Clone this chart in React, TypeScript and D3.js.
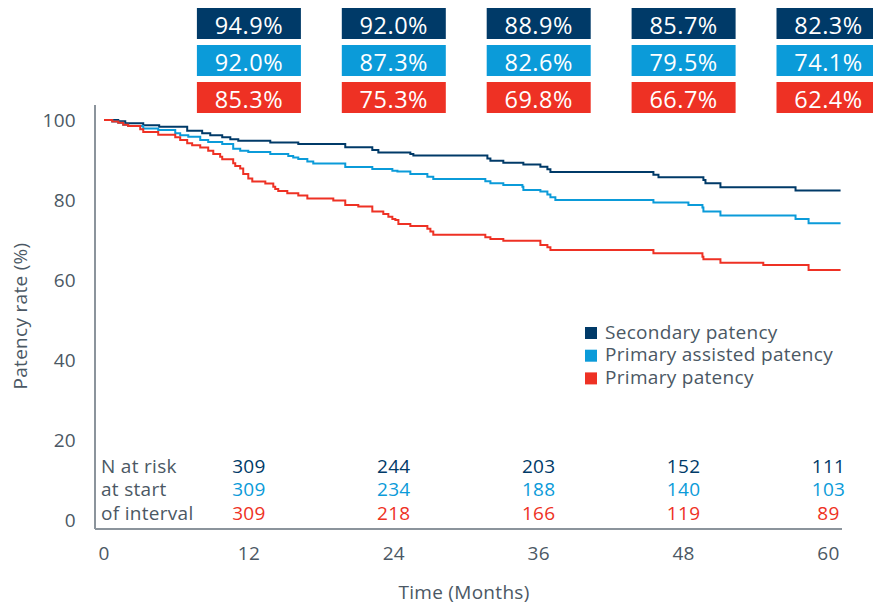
import React from "react";
import * as d3 from "d3";

const W = 873;
const H = 605;

// Kaplan-Meier step data: [month, patency %]
const secondaryTimes = [0, 1.18, 1.76, 3.25, 4.57, 6.89, 8.13, 8.8, 9.79, 10.46, 11.12, 13.77, 16.09, 19.98, 22.22, 22.72, 25.37, 25.62, 31.75, 32.0, 33.07, 34.73, 36.14, 36.72, 36.97, 45.5, 45.92, 49.64, 49.81, 51.05, 57.27, 61];
const secondaryValues = [100, 99.7, 99.2, 98.7, 98.3, 97.3, 96.7, 96.2, 95.7, 95.2, 94.8, 94.4, 94.0, 93.2, 92.5, 91.9, 91.5, 91.1, 90.4, 89.8, 89.3, 88.9, 88.3, 87.7, 87.0, 86.3, 85.7, 85.0, 84.2, 83.2, 82.4, 82.4];

const assistedTimes = [0, 0.68, 1.18, 1.59, 2.0, 3.25, 4.49, 5.9, 6.31, 6.98, 7.97, 8.63, 9.79, 10.7, 11.28, 11.95, 13.77, 15.26, 15.67, 16.09, 16.84, 17.33, 19.98, 22.22, 23.88, 24.3, 25.37, 26.78, 27.27, 31.58, 32.0, 33.07, 34.65, 34.73, 36.14, 36.72, 36.97, 37.38, 45.5, 48.4, 49.56, 49.64, 51.05, 57.27, 58.35, 61];
const assistedValues = [100, 99.6, 99.3, 98.8, 98.5, 97.9, 97.5, 96.7, 96.2, 95.8, 95.0, 94.5, 94.0, 92.8, 92.3, 92.0, 91.5, 91.0, 90.6, 90.25, 89.6, 89.1, 88.25, 87.75, 87.3, 87.1, 86.5, 85.8, 85.25, 84.7, 84.2, 83.75, 83.3, 82.5, 82.1, 81.4, 80.7, 80.0, 79.4, 78.75, 78.1, 77.1, 76.1, 75.25, 74.2, 74.2];

const primaryTimes = [0, 0.68, 1.18, 1.59, 2.0, 3.0, 3.25, 4.49, 5.9, 6.31, 6.89, 7.3, 7.97, 8.63, 9.05, 9.62, 9.79, 10.7, 10.87, 11.28, 11.53, 11.95, 12.28, 13.36, 14.02, 14.18, 14.43, 15.18, 16.09, 16.84, 18.99, 19.98, 21.06, 22.22, 23.13, 23.55, 23.88, 24.13, 24.38, 25.37, 26.78, 27.03, 27.27, 31.58, 32.0, 33.07, 36.14, 36.72, 36.97, 45.5, 49.56, 49.64, 51.05, 54.6, 58.35, 61];
const primaryValues = [100, 99.6, 99.3, 98.8, 98.5, 97.7, 97.0, 96.3, 95.7, 95.0, 94.2, 93.7, 93.1, 92.3, 91.5, 90.8, 90.2, 89.2, 88.5, 87.9, 86.5, 85.4, 84.6, 84.1, 83.3, 82.75, 82.25, 81.7, 81.1, 80.4, 79.9, 78.75, 78.4, 77.1, 76.5, 75.8, 75.25, 75.0, 74.0, 73.5, 72.8, 72.1, 71.3, 70.7, 70.25, 69.8, 68.75, 68.2, 67.5, 66.7, 65.8, 65.2, 64.3, 63.75, 62.5, 62.5];

const seriesNames = ["Secondary patency", "Primary assisted patency", "Primary patency"];
const boxMonths = [12, 24, 36, 48, 60];
const secondaryBoxes = ["94.9%", "92.0%", "88.9%", "85.7%", "82.3%"];
const assistedBoxes = ["92.0%", "87.3%", "82.6%", "79.5%", "74.1%"];
const primaryBoxes = ["85.3%", "75.3%", "69.8%", "66.7%", "62.4%"];

const riskMonths = [12, 24, 36, 48, 60];
const secondaryRisk = [309, 244, 203, 152, 111];
const assistedRisk = [309, 234, 188, 140, 103];
const primaryRisk = [309, 218, 166, 119, 89];
const riskLabels = ["N at risk", "at start", "of interval"];

const xTicks = [0, 12, 24, 36, 48, 60];
const yTicks = [0, 20, 40, 60, 80, 100];

const COLORS = ["#003a68", "#0b9bd9", "#ee3124"];
const TEXT = "#4b5864";
const AXIS = "#8b949c";
const FONT = "'Open Sans', sans-serif";
const FS = 19;
const LS = 0.3;

export default function App() {
  const x = d3.scaleLinear().domain([0, 60]).range([104, 828.5]);
  const y = d3.scaleLinear().domain([0, 100]).range([520, 120]);

  const series = [
    { t: secondaryTimes, v: secondaryValues },
    { t: assistedTimes, v: assistedValues },
    { t: primaryTimes, v: primaryValues },
  ];
  const boxes = [secondaryBoxes, assistedBoxes, primaryBoxes];
  const risks = [secondaryRisk, assistedRisk, primaryRisk];

  const line = d3
    .line<[number, number]>()
    .x((d) => x(d[0]))
    .y((d) => y(d[1]))
    .curve(d3.curveStepAfter);

  const boxRowY = [8, 45, 82];
  const boxW = 104;
  const boxH = 31;

  const axisX0 = 95;
  const axisY0 = 529;

  return (
    <div style={{ position: "absolute", left: 0, top: 0 }}>
      <svg width={W} height={H} style={{ display: "block", fontFamily: FONT }}>
        <rect width={W} height={H} fill="#fff" />
        {/* summary boxes */}
        {boxes.map((row, ri) =>
          row.map((label, i) => (
            <g key={`b${ri}-${i}`}>
              <rect
                x={x(boxMonths[i]) - boxW / 2}
                y={boxRowY[ri]}
                width={boxW}
                height={boxH}
                fill={COLORS[ri]}
              />
              <text
                x={x(boxMonths[i])}
                y={boxRowY[ri] + boxH / 2 + 1}
                textAnchor="middle"
                dominantBaseline="central"
                fill="#fff"
                fontSize={23.5}
                letterSpacing={0.5}
              >
                {label}
              </text>
            </g>
          ))
        )}
        {/* axes */}
        <line x1={axisX0} x2={axisX0} y1={105} y2={axisY0} stroke={AXIS} strokeWidth={2} />
        <line x1={axisX0} x2={842} y1={axisY0} y2={axisY0} stroke={AXIS} strokeWidth={2} />
        {yTicks.map((t) => (
          <text key={`y${t}`} x={76} y={y(t)} textAnchor="end" dominantBaseline="central" fill={TEXT} fontSize={FS} letterSpacing={LS}>
            {t}
          </text>
        ))}
        {xTicks.map((t) => (
          <text key={`x${t}`} x={x(t)} y={553} textAnchor="middle" dominantBaseline="central" fill={TEXT} fontSize={FS} letterSpacing={LS}>
            {t}
          </text>
        ))}
        <text x={464} y={592} textAnchor="middle" dominantBaseline="central" fill={TEXT} fontSize={FS} letterSpacing={LS}>
          Time (Months)
        </text>
        <text
          transform={`translate(20,316) rotate(-90)`}
          textAnchor="middle"
          dominantBaseline="central"
          fill={TEXT}
          fontSize={FS}
          letterSpacing={LS}
        >
          Patency rate (%)
        </text>
        {/* curves */}
        {series.map((s, si) => {
          const pts: [number, number][] = s.t.map((t, i) => [t, s.v[i]]);
          return (
            <path key={`s${si}`} d={line(pts) || ""} fill="none" stroke={COLORS[si]} strokeWidth={2} />
          );
        })}
        {/* legend */}
        {seriesNames.map((n, i) => (
          <g key={`l${i}`}>
            <rect x={585} y={327 + i * 22.7} width={12} height={12} fill={COLORS[i]} />
            <text x={605} y={331.5 + i * 22.7} dominantBaseline="central" fill={TEXT} fontSize={FS} letterSpacing={LS}>
              {n}
            </text>
          </g>
        ))}
        {/* risk table */}
        {riskLabels.map((l, i) => (
          <text key={`rl${i}`} x={101} y={466 + i * 23.3} dominantBaseline="central" fill={TEXT} fontSize={FS} letterSpacing={LS}>
            {l}
          </text>
        ))}
        {risks.map((row, ri) =>
          row.map((n, i) => (
            <text
              key={`r${ri}-${i}`}
              x={x(riskMonths[i])}
              y={466 + ri * 23.3}
              textAnchor="middle"
              dominantBaseline="central"
              fill={COLORS[ri]}
              fontSize={FS}
              letterSpacing={LS}
            >
              {n}
            </text>
          ))
        )}
      </svg>
    </div>
  );
}
